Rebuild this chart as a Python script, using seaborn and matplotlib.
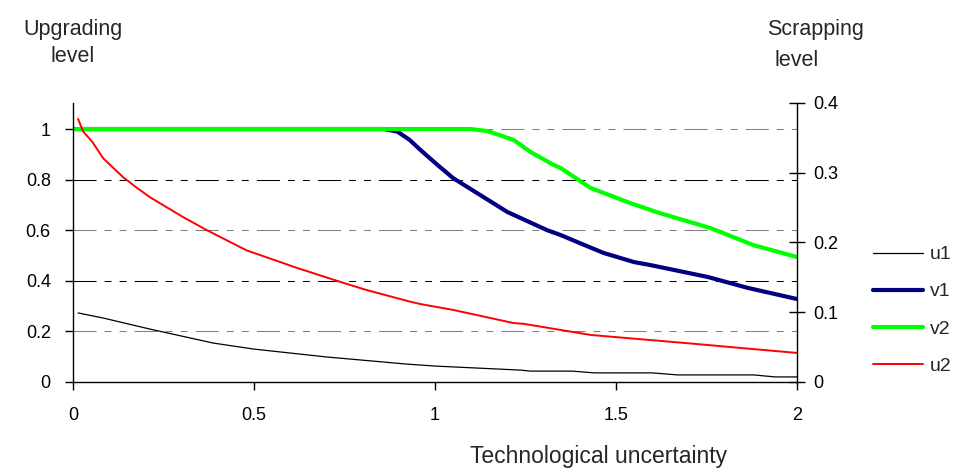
import numpy as np
import pandas as pd
import matplotlib
matplotlib.use('Agg')
import matplotlib.pyplot as plt
import seaborn as sns

# data (left axis scale)
u1_x = [0.014, 0.083, 0.213, 0.387, 0.50, 0.70, 0.92, 1.0, 1.236, 1.264, 1.38, 1.44, 1.60, 1.67, 1.88, 1.94, 2.0]
u1_y = [0.273, 0.253, 0.209, 0.154, 0.130, 0.099, 0.071, 0.063, 0.047, 0.043, 0.043, 0.036, 0.036, 0.028, 0.028, 0.020, 0.020]

u2_x = [0.014, 0.028, 0.053, 0.083, 0.138, 0.177, 0.213, 0.304, 0.37, 0.48, 0.573, 0.61, 0.74, 0.81, 0.93,
        0.96, 1.05, 1.217, 1.245, 1.43, 1.70, 1.88, 2.0]
u2_y = [1.04, 0.99, 0.95, 0.885, 0.81, 0.767, 0.73, 0.652, 0.60, 0.52, 0.474, 0.455, 0.395, 0.364, 0.318,
        0.308, 0.285, 0.233, 0.230, 0.186, 0.153, 0.130, 0.115]

v1_x = [0.006, 0.857, 0.896, 0.93, 0.96, 1.007, 1.05, 1.2, 1.31, 1.347, 1.40, 1.466, 1.55, 1.596, 1.754, 1.864, 2.0]
v1_y = [1.0, 1.0, 0.99, 0.957, 0.917, 0.858, 0.806, 0.672, 0.60, 0.581, 0.549, 0.51, 0.474, 0.462, 0.415, 0.372, 0.328]

v2_x = [0.006, 1.098, 1.145, 1.217, 1.264, 1.328, 1.347, 1.43, 1.54, 1.62, 1.76, 1.88, 2.0]
v2_y = [1.0, 1.0, 0.992, 0.957, 0.909, 0.858, 0.846, 0.767, 0.707, 0.668, 0.609, 0.541, 0.494]

x_ticks = [0, 0.5, 1, 1.5, 2]
x_labels = ['0', '0.5', '1', '1.5', '2']
left_ticks = [0, 0.2, 0.4, 0.6, 0.8, 1]
left_labels = ['0', '0.2', '0.4', '0.6', '0.8', '1']
right_ticks = [0, 0.1, 0.2, 0.3, 0.4]
right_labels = ['0', '0.1', '0.2', '0.3', '0.4']

sns.set_style('ticks')
plt.rcParams['font.family'] = ['Liberation Sans', 'DejaVu Sans']
plt.rcParams['lines.scale_dashes'] = False

fig = plt.figure(figsize=(9.57, 4.75), dpi=100)
ax = fig.add_axes([0.0763, 0.1958, 0.7565, 0.5874])

series = [
    ('u1', u1_x, u1_y, 'black', 0.9),
    ('v1', v1_x, v1_y, '#000080', 3.0),
    ('v2', v2_x, v2_y, '#00ff00', 3.0),
    ('u2', u2_x, u2_y, '#ff0000', 1.4),
]
for name, xs, ys, col, lw in series:
    d = pd.DataFrame({'x': xs, 'y': ys})
    sns.lineplot(data=d, x='x', y='y', color=col, linewidth=lw, label=name, ax=ax, sort=False)

ax.set_xlim(0, 2)
ax.set_ylim(0, 1.103)
ax.set_xticks(x_ticks)
ax.set_xticklabels(x_labels)
ax.set_yticks(left_ticks)
ax.set_yticklabels(left_labels)
ax.set_xlabel('')
ax.set_ylabel('')
ax.tick_params(axis='x', direction='out', length=6, width=1, pad=12, labelsize=13, colors='black')
ax.tick_params(axis='y', direction='out', length=6, width=1, pad=10, labelsize=13, colors='black')
for s in ['top', 'right']:
    ax.spines[s].set_visible(False)
for s in ['left', 'bottom']:
    ax.spines[s].set_color('black')
    ax.spines[s].set_linewidth(1)

# dash-dot-dot gridlines, alternating shades
ax.yaxis.grid(True, linewidth=0.75)
grid_cols = ['none', '#808080', 'black', '#808080', 'black', '#808080']
for gl, c in zip(ax.get_ygridlines(), grid_cols):
    gl.set_color(c)
    gl.set_dashes([16.6, 5.8, 5, 5.8, 5, 5.8])
ax.set_axisbelow(True)

ax2 = ax.twinx()
ax2.set_ylim(0, 0.4)
ax2.set_yticks(right_ticks)
ax2.set_yticklabels(right_labels)
ax2.tick_params(axis='y', direction='inout', length=12, width=1, pad=6, labelsize=13, colors='black')
for s in ['top', 'left', 'bottom']:
    ax2.spines[s].set_visible(False)
ax2.spines['right'].set_color('black')
ax2.spines['right'].set_linewidth(1)

ax.legend(loc='center left', bbox_to_anchor=(0.912, 0.347), bbox_transform=fig.transFigure,
          frameon=False, fontsize=14, handlelength=2.6, handletextpad=0.35, labelspacing=1.0,
          borderaxespad=0, borderpad=0)

fig.text(0.0763, 0.96, 'Upgrading\nlevel', ha='center', va='top', fontsize=15.5, linespacing=1.4)
fig.text(0.852, 0.96, 'Scrapping', ha='center', va='top', fontsize=15.5)
fig.text(0.8328, 0.895, 'level', ha='center', va='top', fontsize=15.5)
fig.text(0.625, 0.015, 'Technological uncertainty', ha='center', va='bottom', fontsize=16.5)

fig.savefig('out.png', dpi=100)
